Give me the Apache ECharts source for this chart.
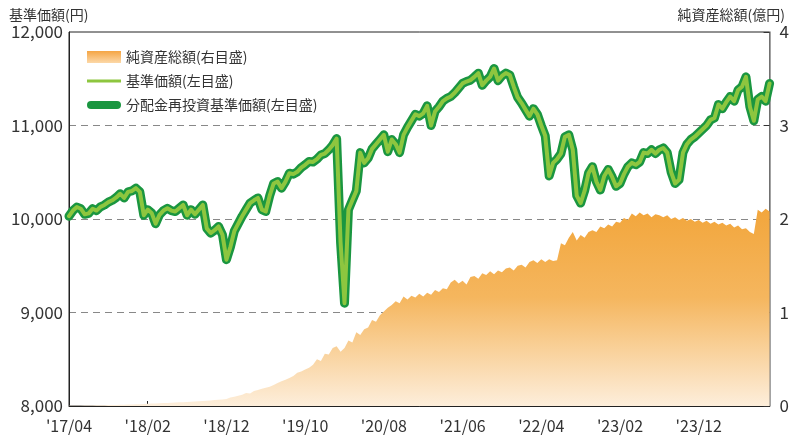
<!DOCTYPE html>
<html><head><meta charset="utf-8">
<script src="https://cdn.jsdelivr.net/npm/echarts@6/dist/echarts.min.js"></script>
<style>html,body{margin:0;padding:0;background:#fff}#c{width:792px;height:441px}</style>
</head><body><div id="c"></div>
<script>
// x tick labels (every 10 months, starting 2017/04)
const tickLabels = ["'17/04","'18/02","'18/12","'19/10","'20/08","'21/06","'22/04","'23/02","'23/12"];

// 基準価額 (円), half-monthly from 2017/04
const price = [
10030,10090,10128,10110,10050,10060,10110,10090,10130,10150,
10180,10200,10230,10270,10225,10290,10300,10330,10290,10040,
10100,10065,9950,10045,10090,10115,10090,10080,10115,10150,
10040,10100,10050,10100,10150,9900,9850,9880,9920,9830,
9565,9700,9870,9950,10030,10100,10170,10200,10225,10100,
10080,10250,10380,10400,10330,10400,10490,10480,10505,10550,
10580,10615,10610,10640,10685,10700,10740,10790,10860,9750,
9100,10100,10200,10300,10710,10600,10650,10750,10800,10850,
10900,10720,10850,10800,10710,10900,10980,11050,11120,11100,
11130,11210,11000,11150,11200,11260,11290,11310,11350,11400,
11450,11470,11485,11520,11560,11430,11480,11520,11610,11480,
11530,11560,11540,11415,11300,11240,11170,11100,11180,11120,
11000,10890,10460,10600,10640,10700,10880,10900,10740,10250,
10170,10300,10490,10560,10400,10310,10460,10530,10450,10350,
10380,10480,10560,10600,10580,10610,10710,10700,10740,10700,
10740,10760,10710,10500,10380,10420,10710,10800,10850,10880,
10920,10960,11000,11060,11080,11225,11180,11250,11310,11260,
11380,11415,11520,11200,11050,11280,11310,11260,11450
];

// 分配金再投資基準価額 (円): no distributions paid, so identical to 基準価額
const reinvestPrice = price.slice();

// 純資産総額 (億円), half-monthly from 2017/04
const netAssets = [
0.002,0.003,0.004,0.004,0.005,0.006,0.006,0.007,0.008,0.009,
0.010,0.011,0.012,0.013,0.014,0.016,0.017,0.019,0.020,0.022,
0.024,0.026,0.027,0.029,0.031,0.033,0.035,0.037,0.039,0.041,
0.044,0.046,0.048,0.051,0.053,0.056,0.060,0.063,0.067,0.070,
0.075,0.090,0.100,0.110,0.120,0.140,0.135,0.160,0.170,0.185,
0.195,0.205,0.225,0.245,0.265,0.28,0.30,0.32,0.355,0.37,
0.39,0.41,0.44,0.50,0.48,0.56,0.55,0.62,0.64,0.58,
0.62,0.70,0.68,0.79,0.76,0.82,0.84,0.92,0.90,0.97,
1.01,1.05,1.08,1.12,1.10,1.17,1.14,1.18,1.16,1.20,
1.17,1.21,1.19,1.24,1.22,1.26,1.25,1.32,1.35,1.31,
1.34,1.30,1.38,1.39,1.36,1.42,1.40,1.44,1.41,1.45,
1.43,1.47,1.48,1.45,1.50,1.51,1.48,1.54,1.56,1.53,
1.57,1.54,1.57,1.55,1.56,1.74,1.72,1.80,1.86,1.77,
1.83,1.80,1.86,1.88,1.86,1.92,1.90,1.94,1.92,1.97,
1.96,2.01,1.99,2.06,2.03,2.07,2.04,2.06,2.02,2.05,
2.04,2.02,2.04,2.00,2.02,1.99,2.01,1.98,2.00,1.97,
1.99,1.96,1.98,1.95,1.97,1.94,1.96,1.93,1.95,1.91,
1.93,1.89,1.90,1.86,1.84,2.10,2.07,2.11,2.08
];

// half-month date categories
const categories = [];
for (let i = 0; i < price.length; i++) {
  const m = 3 + Math.floor(i / 2);
  const y = 2017 + Math.floor(m / 12);
  const mm = (m % 12) + 1;
  categories.push(y + '/' + String(mm).padStart(2, '0') + (i % 2 ? '/16' : '/01'));
}

const F = '"Noto Sans CJK JP", "Noto Sans", sans-serif';
const NAME_ASSET = '純資産総額(右目盛)';
const NAME_PRICE = '基準価額(左目盛)';
const NAME_REINV = '分配金再投資基準価額(左目盛)';

const orangeGrad = {type:'linear',x:0,y:0,x2:0,y2:1,colorStops:[
  {offset:0,color:'#f2a63c'},{offset:0.45,color:'#f5b65e'},{offset:1,color:'#fdeedb'}]};
const legendGrad = {type:'linear',x:0,y:0,x2:0,y2:1,colorStops:[
  {offset:0,color:'#f5a544'},{offset:1,color:'#fcd8a8'}]};

const chart = echarts.init(document.getElementById('c'), null, {renderer:'canvas'});
chart.setOption({
  animation:false,
  backgroundColor:'#ffffff',
  title:[
    {text:'基準価額(円)', left:4, top:3, textStyle:{fontSize:14,fontWeight:'normal',color:'#333',fontFamily:F}},
    {text:'純資産総額(億円)', right:2, top:3, textStyle:{fontSize:14,fontWeight:'normal',color:'#333',fontFamily:F}}
  ],
  legend:{
    left:82, top:45, orient:'vertical', itemWidth:34, itemHeight:12, itemGap:10,
    textStyle:{fontSize:14,color:'#333',fontFamily:F},
    data:[
      {name:NAME_ASSET, icon:'rect', itemStyle:{color:legendGrad,borderWidth:0}},
      {name:NAME_PRICE, icon:'path://M0,0L34,0L34,3L0,3Z', itemStyle:{color:'#8dc63f',borderWidth:0}},
      {name:NAME_REINV, icon:'path://M4,0L30,0A4,4,0,0,1,30,8L4,8A4,4,0,0,1,4,0Z', itemStyle:{color:'#1a9640',borderWidth:0}}
    ]
  },
  grid:{left:69, right:22, top:32, bottom:35, show:true, borderColor:'#222', borderWidth:1, backgroundColor:'transparent'},
  xAxis:{
    type:'category', data:categories, boundaryGap:false,
    axisLine:{lineStyle:{color:'#222',width:1}},
    axisTick:{inside:true,length:5,interval:function(i){return i%20===0;},lineStyle:{color:'#222'}},
    axisLabel:{interval:function(i){return i%20===0;}, formatter:function(v,i){return tickLabels[i/20]||'';},
      fontSize:16,color:'#333',margin:12,fontFamily:F},
    splitLine:{show:false}
  },
  yAxis:[
    {type:'value', min:8000, max:12000, interval:1000, position:'left',
      axisLine:{show:true,lineStyle:{color:'#222',width:1}},
      axisTick:{show:false},
      axisLabel:{fontSize:17,color:'#333',margin:6,fontFamily:F},
      splitLine:{show:true,showMinLine:false,showMaxLine:false,lineStyle:{color:'#888',type:[7,5],width:1}}},
    {type:'value', min:0, max:4, interval:1, position:'right',
      axisLine:{show:true,lineStyle:{color:'#888',width:1.5}},
      axisTick:{show:true,inside:true,length:6,lineStyle:{color:'#333'}},
      axisLabel:{fontSize:17,color:'#333',margin:10,fontFamily:F},
      splitLine:{show:false}}
  ],
  series:[
    {name:NAME_ASSET, type:'line', yAxisIndex:1, data:netAssets, symbol:'none',
      lineStyle:{width:0}, areaStyle:{color:orangeGrad,opacity:1}, itemStyle:{color:'#f5a544'}, z:1},
    {name:NAME_REINV, type:'line', yAxisIndex:0, data:reinvestPrice, symbol:'none',
      lineStyle:{width:9,color:'#1a9640',join:'round',cap:'round'}, itemStyle:{color:'#1a9640'}, z:2},
    {name:NAME_PRICE, type:'line', yAxisIndex:0, data:price, symbol:'none',
      lineStyle:{width:4,color:'#8dc63f',join:'round',cap:'round'}, itemStyle:{color:'#8dc63f'}, z:3}
  ]
});
</script></body></html>
